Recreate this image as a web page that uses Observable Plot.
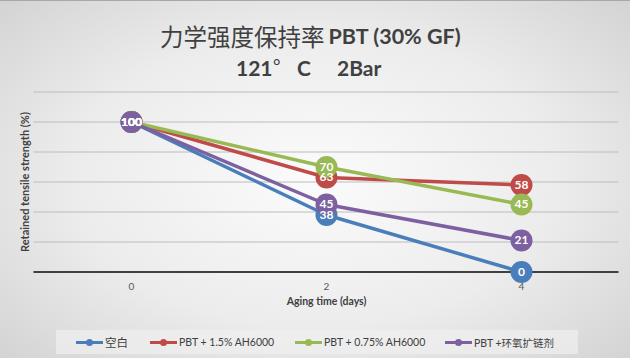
<!DOCTYPE html>
<html>
<head>
<meta charset="utf-8">
<script src="https://cdn.jsdelivr.net/npm/d3@7"></script>
<script src="https://cdn.jsdelivr.net/npm/@observablehq/plot@0.6"></script>
<style>
  html, body { margin: 0; padding: 0; }
  #wrap {
    position: relative; width: 630px; height: 358px; overflow: hidden;
    background: radial-gradient(ellipse 70% 75% at 50% 50%, #fbfbfb 0%, #ececec 55%, #d2d2d2 100%);
    border-top: 1px solid #a8a8a8; box-sizing: border-box;
    font-family: Lato, "Noto Sans CJK SC", sans-serif;
  }
  #title { position: absolute; left: 160px; top: 19px; height: 32px; display: flex; align-items: center; color: #404040; white-space: pre; }
  #title .cjk { font-family: "Noto Sans CJK SC", sans-serif; font-weight: 400; font-size: 23.5px; }
  #title .lat { font-weight: 700; font-size: 21.5px; margin-left: 4px; }
  .sub { position: absolute; top: 53px; line-height: 28px; font-size: 21px; font-weight: 700; color: #404040; white-space: pre; }
  #chart { position: absolute; left: 0; top: 79px; }
  #legend {
    position: absolute; left: 56px; top: 329px; width: 522px; height: 24px;
    background: rgba(240,240,240,0.7);
    font-size: 10.5px; color: #404040;
  }
  .item { position: absolute; display: flex; align-items: center; top: 0; height: 24px; white-space: pre; }
  .item .cjkt { font-family: "Noto Sans CJK SC", sans-serif; font-size: 11.5px; }
  .sw { position: relative; width: 27px; height: 3px; margin-right: 2px; }
  .sw i { position: absolute; left: 10px; top: -2px; width: 7px; height: 7px; border-radius: 50%; }
</style>
</head>
<body>
<div id="wrap">
  <div id="title"><span class="cjk">力学强度保持率</span><span class="lat">PBT (30% GF)</span></div>
  <div class="sub" style="left:236px">121</div>
  <div class="sub" style="left:273px;font-weight:400;font-size:18px;top:50px">°</div>
  <div class="sub" style="left:297px">C</div>
  <div class="sub" style="left:337px">2Bar</div>
  <div id="chart"></div>
  <div id="legend"></div>
</div>
<script>
const days = [0, 2, 4];
const seriesNames = ["空白", "PBT + 1.5% AH6000", "PBT + 0.75% AH6000", "PBT +环氧扩链剂"];
const blank = [100, 38, 0];
const ah15 = [100, 63, 58];
const ah075 = [100, 70, 45];
const epoxy = [100, 45, 21];
const colors = ["#4a7ebb", "#be4b48", "#98b954", "#7d60a0"];
const yGrid = [20, 40, 60, 80, 100, 120];
const xTicks = [0, 2, 4];

const seriesValues = [blank, ah15, ah075, epoxy];
const rows = [];
seriesValues.forEach((vals, s) => {
  vals.forEach((v, i) => rows.push({series: seriesNames[s], day: days[i], value: v, idx: s}));
});

const seriesMarks = [];
seriesNames.forEach((name, s) => {
  const d = rows.filter(r => r.idx === s);
  seriesMarks.push(Plot.line(d, {x: "day", y: "value", stroke: colors[s], strokeWidth: 3.5}));
  seriesMarks.push(Plot.dot(d, {x: "day", y: "value", r: 11, fill: colors[s], stroke: "none"}));
});

const chart = Plot.plot({
  width: 630,
  height: 232,
  marginLeft: 33.5,
  marginRight: 11.5,
  marginTop: 11.5,
  marginBottom: 40.5,
  style: {background: "transparent", fontFamily: "Lato, 'Noto Sans CJK SC', sans-serif"},
  x: {domain: [-1, 5]},
  y: {domain: [0, 120], axis: null},
  marks: [
    Plot.ruleY(yGrid, {stroke: "#bcbcbc", strokeWidth: 1}),
    Plot.ruleY([0], {stroke: "#404040", strokeWidth: 2}),
    Plot.axisX(xTicks, {tickSize: 0, tickPadding: 11, fontSize: 10, fill: "#595959", label: null}),
    ...seriesMarks,
    Plot.text(rows, {x: "day", y: "value", text: d => String(d.value), fill: "white", fontWeight: "bold", fontSize: 12}),
    Plot.text(["Aging time (days)"], {frameAnchor: "bottom", dy: 33, fontWeight: "bold", fontSize: 10.5, fill: "#404040"}),
    Plot.text(["Retained tensile strength (%)"], {frameAnchor: "left", textAnchor: "middle", dx: -9, rotate: -90, fontWeight: "bold", fontSize: 11, fill: "#404040"})
  ]
});
document.getElementById("chart").appendChild(chart);

const legendX = [20, 94, 239, 389];
const legend = document.getElementById("legend");
seriesNames.forEach((name, s) => {
  const it = document.createElement("div");
  it.className = "item";
  it.style.left = legendX[s] + "px";
  const cls = s === 0 ? "cjkt" : "";
  it.innerHTML = `<span class="sw" style="background:${colors[s]}"><i style="background:${colors[s]}"></i></span><span class="${cls}">${name}</span>`;
  legend.appendChild(it);
});
</script>
</body>
</html>
